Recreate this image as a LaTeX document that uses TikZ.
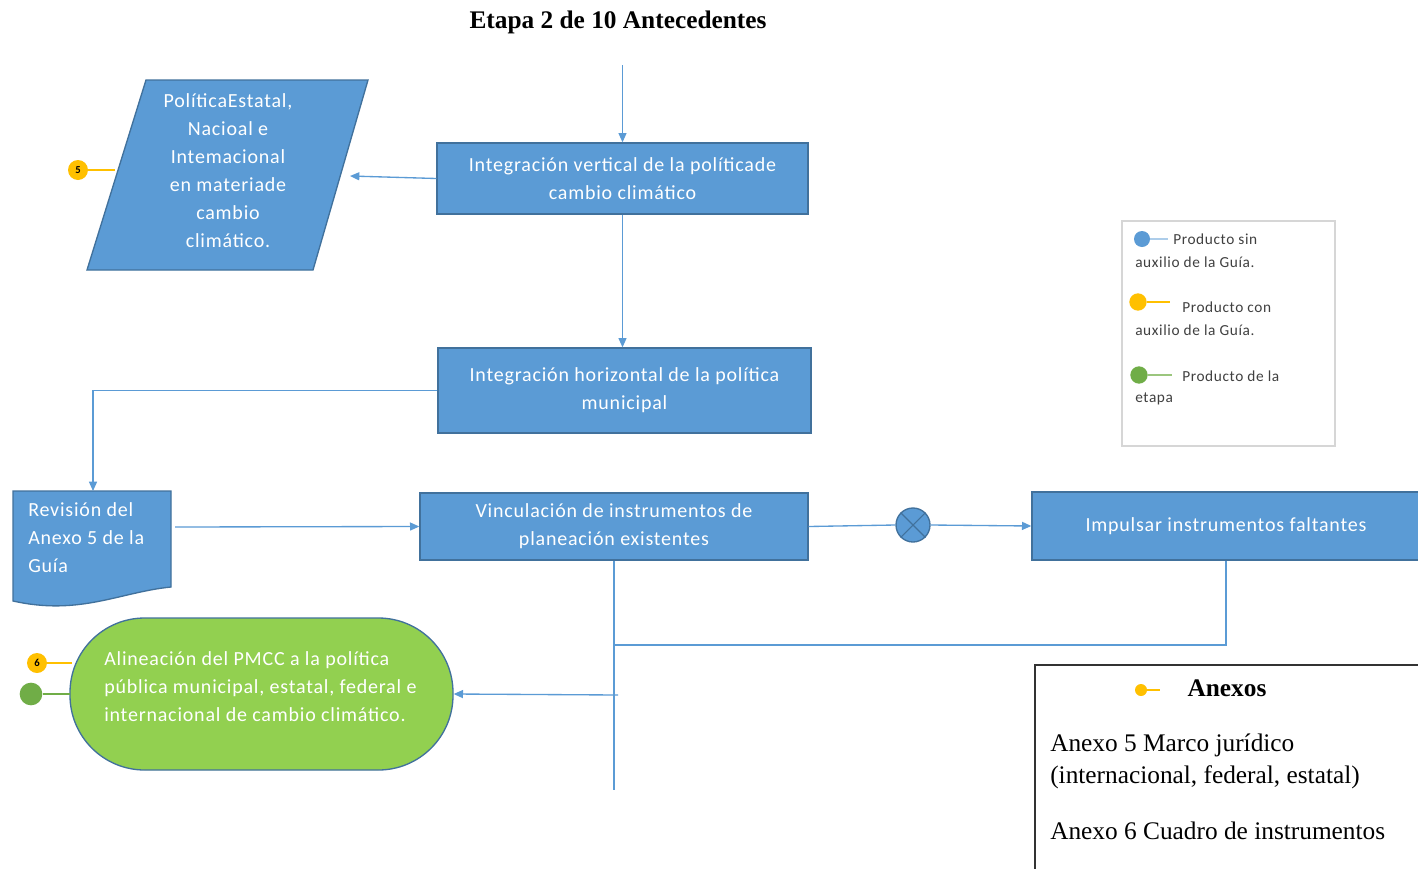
\documentclass[tikz,border=0pt]{standalone}
\usepackage{fontspec}
\setmainfont{Liberation Serif}
\newfontfamily\calfont[LetterSpace=4]{Carlito}
\usetikzlibrary{arrows.meta}
\definecolor{bfill}{HTML}{5B9BD5}
\definecolor{bedge}{HTML}{41719C}
\definecolor{gfill}{HTML}{92D050}
\definecolor{ylw}{HTML}{FFC000}
\definecolor{grn}{HTML}{70AD47}
\definecolor{lgray}{HTML}{D6D6D6}
\definecolor{ltxt}{HTML}{404040}
\begin{document}
\begin{tikzpicture}[x=0.75pt,y=-0.75pt,
  proc/.style={draw=bedge, fill=bfill, line width=1pt, text=white,
    font=\calfont\fontsize{15}{21}\selectfont, align=center, inner sep=0pt},
  wtext/.style={text=white, font=\calfont\fontsize{15}{21}\selectfont, inner sep=0pt},
  conn/.style={draw=bfill, line width=1pt},
  arr/.style={conn, -{Triangle[length=7pt,width=6pt]}},
  dot/.style={circle, inner sep=0pt, minimum size=15pt},
  leg/.style={text=ltxt, font=\calfont\fontsize{11.5}{17}\selectfont, inner sep=0pt, anchor=west},
  anx/.style={text=black, font=\fontsize{19}{24}\selectfont, inner sep=0pt, anchor=west}]
\clip (0,0) rectangle (1418,868);
\fill[white] (0,0) rectangle (1418,868);

% title
\node[font=\bfseries\fontsize{19}{22}\selectfont] (title) at (618,22) {Etapa 2 de 10 Antecedentes};

% boxes
\node[proc, minimum width=278.25pt, minimum height=53.25pt] (b1) at (622.5,178.5)
  {Integración vertical de la políticade\\cambio climático};
\node[proc, minimum width=279.75pt, minimum height=63.75pt] (b2) at (624.5,390.5)
  {Integración horizontal de la política\\municipal};
\node[proc, minimum width=291pt, minimum height=50.25pt] (b3) at (614,526.5)
  {Vinculación de instrumentos de\\planeación existentes};
\node[proc, minimum width=291pt, minimum height=51pt] (b4) at (1226,526)
  {Impulsar instrumentos faltantes};

% parallelogram
\draw[draw=bedge, fill=bfill, line width=1pt] (146,80) -- (368,80) -- (313,270) -- (87,270) -- cycle;
\node[wtext, align=center] (pol) at (228,171)
  {PolíticaEstatal,\\Nacioal e\\Intemacional\\en materiade\\cambio\\climático.};
\coordinate (polE) at (350,176);
\coordinate (polW) at (115,170);

% document shape
\draw[draw=bedge, fill=bfill, line width=1pt] (13,491) -- (171,491) -- (171,587)
  .. controls (120,592) and (80,616) .. (13,601) -- cycle;
\node[wtext, align=left, anchor=west] (doc) at (28,538)
  {Revisión del\\Anexo 5 de la\\Guía};
\coordinate (docN) at (93,491);
\coordinate (docE) at (175,527);

% terminal
\node[draw=bedge, fill=gfill, line width=1pt, minimum width=287.25pt, minimum height=114pt,
  rounded corners=56pt, inner sep=0pt] (term) at (261.5,694) {};
\node[wtext, align=left, anchor=west] (termt) at (104,687)
  {Alineación del PMCC a la política\\pública municipal, estatal, federal e\\internacional de cambio climático.};

% X junction
\node[circle, draw=bedge, fill=bfill, line width=1pt, minimum size=25.5pt, inner sep=0pt] (xj) at (913,525) {};
\draw[bedge, line width=0.8pt] (xj.45) -- (xj.225) (xj.135) -- (xj.315);

% connectors
\coordinate (start) at (622.5,65);
\draw[arr] (start) -- (b1.north);
\draw[arr] (b1.west) -- (polE);
\draw[arr] (b1.south) -- (b1.south |- b2.north);
\draw[arr] (b2.west) -| (docN);
\draw[arr] (docE) -- (b3.west);
\draw[conn] (b3.east) -- (xj.west);
\draw[arr] (xj.east) -- (b4.west);
\coordinate (join) at (614,645);
\draw[conn] (b4.south) |- (join);
\coordinate (bot) at (614,790);
\draw[conn] (b3.south) -- (bot);
\coordinate (tin) at (618,695);
\draw[arr] (tin) -- (term.east);

% markers
\node[dot, fill=ylw, minimum size=15pt, font=\calfont\bfseries\fontsize{8}{8}\selectfont] (m5) at (78,170) {5};
\draw[ylw, line width=1.2pt] (m5.east) -- (polW);
\coordinate (termY) at (72,663);
\coordinate (termG) at (70,694);
\node[dot, fill=ylw, font=\calfont\bfseries\fontsize{8}{8}\selectfont] (m6) at (37,663) {6};
\draw[ylw, line width=1.2pt] (m6.east) -- (termY);
\node[dot, fill=grn, minimum size=17pt] (mg) at (31,694) {};
\draw[grn, line width=1.2pt] (mg.east) -- (termG);

% legend
\draw[lgray, line width=1pt] (1122,221) rectangle (1335,446);
\node[dot, fill=bfill, minimum size=12pt] (lb) at (1142,239) {};
\coordinate (lbE) at (1168,239);
\draw[bfill!50, line width=0.8pt] (lb.east) -- (lbE);
\node[leg] (lt1) at (1173,239) {Producto sin};
\node[leg] (lt1b) at (1135,262) {auxilio de la Guía.};
\node[dot, fill=ylw, minimum size=13pt] (ly) at (1138,302) {};
\coordinate (lyE) at (1170,302);
\draw[ylw, line width=0.8pt] (ly.east) -- (lyE);
\node[leg] (lt2) at (1182,307) {Producto con};
\node[leg] (lt2b) at (1135,330) {auxilio de la Guía.};
\node[dot, fill=grn, minimum size=13pt] (lg) at (1139,375) {};
\coordinate (lgE) at (1172,375);
\draw[grn!70, line width=0.8pt] (lg.east) -- (lgE);
\node[leg] (lt3) at (1182,376) {Producto de la};
\node[leg] (lt3b) at (1135,399) {etapa};

% anexos
\draw[black!80, line width=1.2pt] (1035,665) rectangle (1425,875);
\node[dot, fill=ylw, minimum size=9pt] (ay) at (1141,690) {};
\coordinate (ayE) at (1160,690);
\draw[ylw, line width=0.8pt] (ay.east) -- (ayE);
\node[font=\bfseries\fontsize{19}{22}\selectfont] (anxt) at (1227,688) {Anexos};
\node[anx] (a5) at (1050,745) {Anexo 5 Marco jurídico};
\node[anx] (a5b) at (1050,777) {(internacional, federal, estatal)};
\node[anx] (a6) at (1050,831) {Anexo 6 Cuadro de instrumentos};
\end{tikzpicture}
\end{document}
